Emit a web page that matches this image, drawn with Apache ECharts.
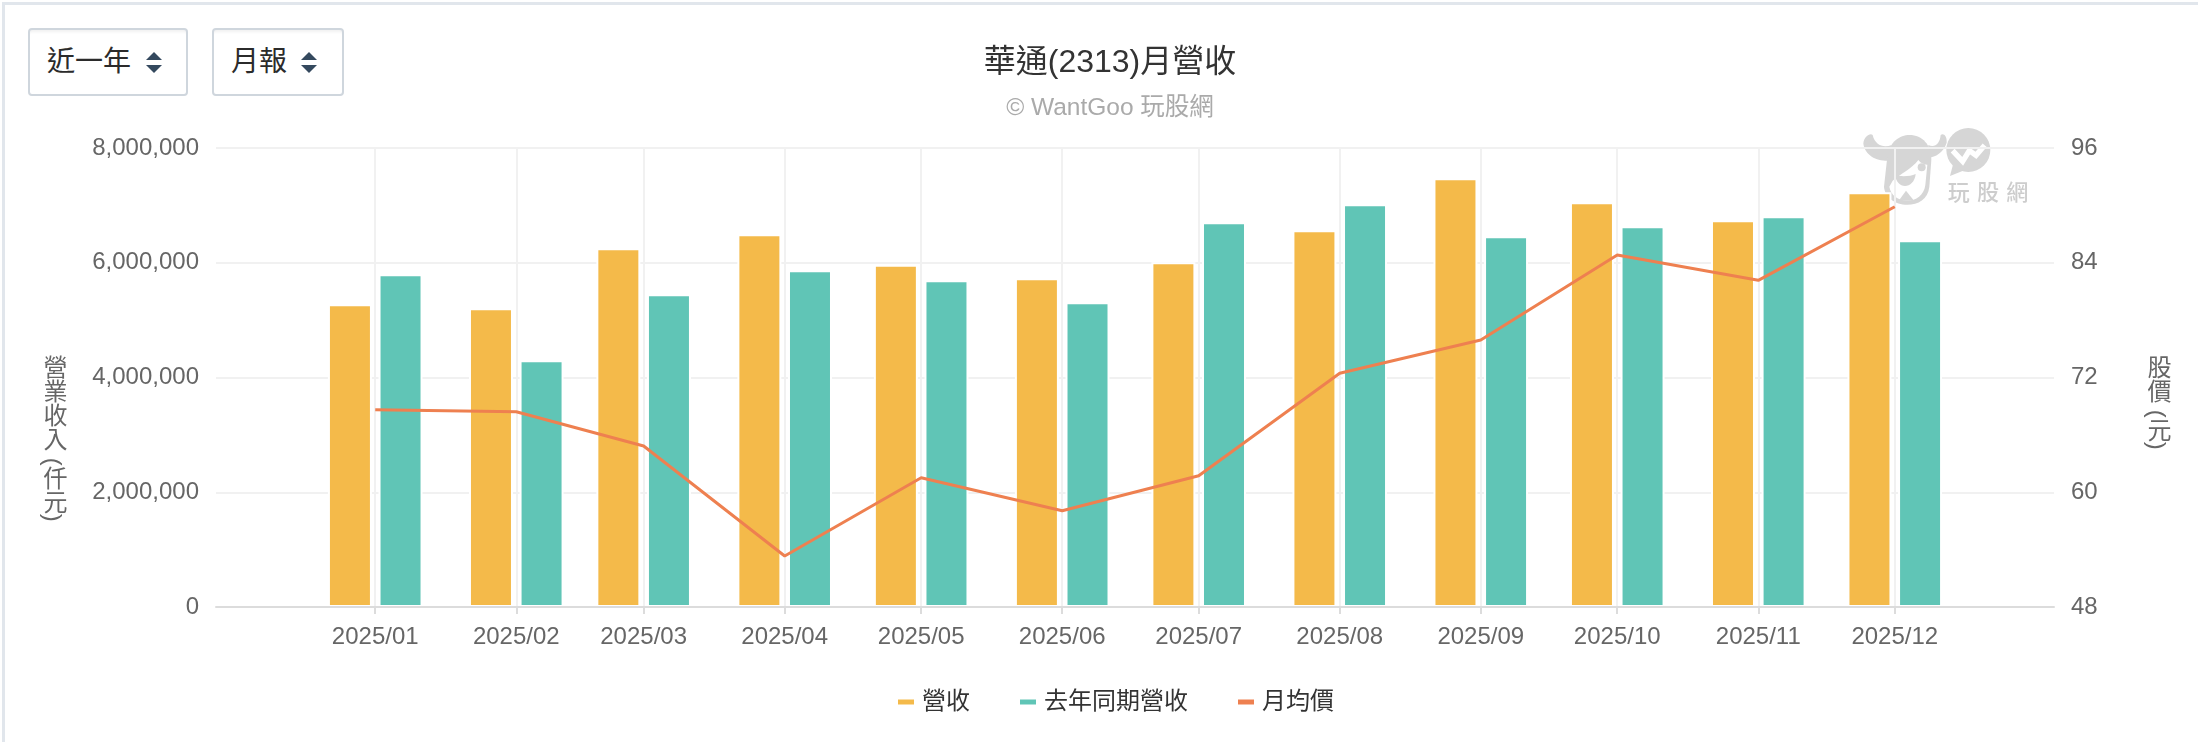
<!DOCTYPE html>
<html lang="zh-Hant">
<head>
<meta charset="utf-8">
<title>華通(2313)月營收</title>
<script src="https://cdn.jsdelivr.net/npm/echarts@6/dist/echarts.min.js"></script>
<style>
  html, body { margin: 0; padding: 0; background: #fff; }
  #page { position: relative; width: 2198px; height: 742px; overflow: hidden; font-family: "Liberation Sans", "Noto Sans CJK TC", sans-serif; }
  #frame { position: absolute; left: 2px; top: 2px; right: 0; bottom: 0; border-left: 3px solid #e1e6ec; border-top: 3px solid #e1e6ec; }
  #chart { position: absolute; left: 0; top: 0; width: 2198px; height: 742px; }
  .picker { position: absolute; top: 28px; height: 68px; box-sizing: border-box; border: 2px solid #cfd6dd; border-radius: 4px;
            box-shadow: inset 0 4px 3px -2px #f1f1f1; background: #fff; color: #2b2b2b; font-size: 28px; line-height: 64px; padding-left: 17px; z-index: 3; }
  .picker svg { position: absolute; top: 22px; }
  .axis-name { position: absolute; writing-mode: vertical-rl; font-size: 24px; line-height: 24px; color: #666; white-space: nowrap; z-index: 3; }
  #mark { position: absolute; left: 1850px; top: 120px; width: 190px; height: 100px; filter: blur(0.7px); }
</style>
</head>
<body>
<div id="page">
  <div id="frame"></div>
  <!-- Site logo, sits behind the transparent chart canvas -->
  <svg id="mark" viewBox="0 0 570 300">
    <g fill="#d6d6d6">
      <circle cx="355" cy="90" r="66"/>
      <path d="M310 130 L300 168 L345 150 Z"/>
      <path d="M125 75 C100 85 75 75 68 45 C60 38 42 50 40 70 C42 100 75 125 112 122 Z"/>
      <path d="M235 75 C255 85 270 70 272 45 C280 38 292 48 290 68 C280 100 250 115 232 112 Z"/>
      <path d="M112 110 C118 65 150 45 178 45 C218 45 244 75 244 120 L238 200 C234 238 204 254 172 254 C134 254 104 232 102 200 Z"/>
    </g>
    <path fill="#fff" d="M128 182 C150 162 185 147 205 120 C212 130 224 134 232 134 L226 195 C222 226 198 242 172 242 C145 242 122 226 118 200 Z"/>
    <g fill="#d6d6d6">
      <circle cx="215" cy="142" r="12"/>
      <path d="M135 165 C150 170 180 170 197 162 C195 185 180 198 165 198 C150 198 138 185 135 165 Z"/>
      <path d="M146 242 L168 212 L192 242 Z"/>
    </g>
    <path fill="none" stroke="#fff" stroke-width="16" d="M308 92 L338 124 L358 92 L378 106 L404 76"/>
    <text x="293" y="240" font-family="Noto Sans CJK TC" font-size="66" font-weight="500" letter-spacing="22" fill="#cdcdcd">玩股網</text>
  </svg>
  <div id="chart"></div>
  <div class="picker" style="left:28px;width:160px">近一年
    <svg style="left:116px" width="16" height="22" viewBox="0 0 16 22"><path fill="#34495e" d="M8 0 L16 8 L0 8 Z M0 13 L16 13 L8 21 Z"/></svg>
  </div>
  <div class="picker" style="left:212px;width:132px">月報
    <svg style="left:87px" width="16" height="22" viewBox="0 0 16 22"><path fill="#34495e" d="M8 0 L16 8 L0 8 Z M0 13 L16 13 L8 21 Z"/></svg>
  </div>
  <div class="axis-name" style="left:41px;top:355px">營業收入 (仟元)</div>
  <div class="axis-name" style="left:2145px;top:355px">股價 (元)</div>
</div>
<script>
// Monthly revenue (thousand NT$) and average share price for 2313
const months = ['2025/01','2025/02','2025/03','2025/04','2025/05','2025/06','2025/07','2025/08','2025/09','2025/10','2025/11','2025/12'];
const revenue = [5276000,5206000,6252000,6496000,5963000,5729000,6008000,6566000,7472000,7054000,6740000,7228000];
const revenueLastYear = [5799000,4300000,5450000,5869000,5694000,5311000,6705000,7019000,6461000,6636000,6810000,6392000];
const avgPrice = [68.63,68.42,64.84,53.33,61.52,58.07,61.73,72.44,75.92,84.81,82.16,89.86];
const revenueTicks = [0,2000000,4000000,6000000,8000000];

const FONT = '"Liberation Sans", "Noto Sans CJK TC", sans-serif';
const GREY = '#666';
// The x axis is linear in calendar time, so months keep their true lengths
const stamp = m => { const [y, mo] = m.split('/').map(Number); return Date.UTC(y, mo - 1, 1); };
const pad = n => String(n).padStart(2, '0');
const monthLabel = v => { const d = new Date(v); return d.getUTCFullYear() + '/' + pad(d.getUTCMonth() + 1); };
const monthStamps = months.map(stamp);
const xMin = Date.UTC(2024, 10, 27);
const xMax = Date.UTC(2026, 0, 5);
const pair = values => months.map((m, i) => [stamp(m), values[i]]);

const barStyle = c => ({ color: c, borderColor: '#fff', borderWidth: 2 });

const chart = echarts.init(document.getElementById('chart'));
chart.setOption({
  animation: false,
  textStyle: { fontFamily: FONT },
  title: {
    text: '華通(2313)月營收',
    subtext: '© WantGoo 玩股網',
    left: 1110, top: 47, textAlign: 'center', itemGap: 17, padding: 0,
    textStyle: { fontSize: 32, fontWeight: 'normal', color: '#333', fontFamily: FONT },
    subtextStyle: { fontSize: 24.5, color: '#aaa', fontFamily: FONT }
  },
  legend: {
    left: 898, top: 690, padding: 0, itemWidth: 16, itemHeight: 5, itemGap: 50,
    textStyle: { fontSize: 24, color: '#333', fontFamily: FONT, padding: [0, 0, 0, 3] },
    data: [
      { name: '營收', icon: 'rect', itemStyle: { color: '#f4ba4a', borderWidth: 0 } },
      { name: '去年同期營收', icon: 'rect', itemStyle: { color: '#60c5b6', borderWidth: 0 } },
      { name: '月均價', icon: 'rect', itemStyle: { color: '#ee8050', borderWidth: 0 }, lineStyle: { width: 5 } }
    ]
  },
  grid: { left: 216, right: 144, top: 148, bottom: 135, containLabel: false },
  xAxis: [
    { // splitlines sit underneath the white bar outlines
      type: 'value', min: xMin, max: xMax, position: 'bottom', z: 0, scale: true,
      axisLine: { show: false }, axisTick: { show: false, customValues: monthStamps },
      axisLabel: { show: false, customValues: monthStamps },
      splitLine: { show: true, lineStyle: { color: '#f1f1f1', width: 2 } }
    },
    { // baseline, ticks and labels stay above the bars
      type: 'value', min: xMin, max: xMax, position: 'bottom', z: 5, scale: true,
      axisLine: { show: true, onZero: false, lineStyle: { color: '#dcdcdc', width: 2 } },
      axisTick: { show: true, length: 7, lineStyle: { color: '#dcdcdc', width: 2 }, customValues: monthStamps },
      axisLabel: { show: true, customValues: monthStamps, formatter: monthLabel, fontSize: 24, color: GREY, margin: 18, fontFamily: FONT, hideOverlap: false },
      splitLine: { show: false }
    }
  ],
  yAxis: [
    {
      type: 'value', min: revenueTicks[0], max: revenueTicks[4], interval: revenueTicks[1],
      axisLine: { show: false }, axisTick: { show: false },
      axisLabel: { fontSize: 24, color: GREY, margin: 17, fontFamily: FONT, padding: [6, 0, 0, 0], formatter: v => v.toLocaleString('en-US') },
      splitLine: { show: true, lineStyle: { color: '#f1f1f1', width: 2 } }
    },
    {
      type: 'value', min: 48, max: 96, interval: 12,
      axisLine: { show: false }, axisTick: { show: false },
      axisLabel: { fontSize: 24, color: GREY, margin: 17, fontFamily: FONT, padding: [6, 0, 0, 0] },
      splitLine: { show: false }
    }
  ],
  series: [
    { name: '營收', type: 'bar', xAxisIndex: 0, yAxisIndex: 0, barWidth: 44, barGap: '15%', data: pair(revenue), itemStyle: barStyle('#f4ba4a') },
    { name: '去年同期營收', type: 'bar', xAxisIndex: 0, yAxisIndex: 0, barWidth: 44, barGap: '15%', data: pair(revenueLastYear), itemStyle: barStyle('#60c5b6') },
    { name: '月均價', type: 'line', xAxisIndex: 0, yAxisIndex: 1, symbol: 'none', data: pair(avgPrice), z: 4,
      lineStyle: { color: '#ee8050', width: 3 }, itemStyle: { color: '#ee8050' } }
  ]
});
</script>
</body>
</html>
